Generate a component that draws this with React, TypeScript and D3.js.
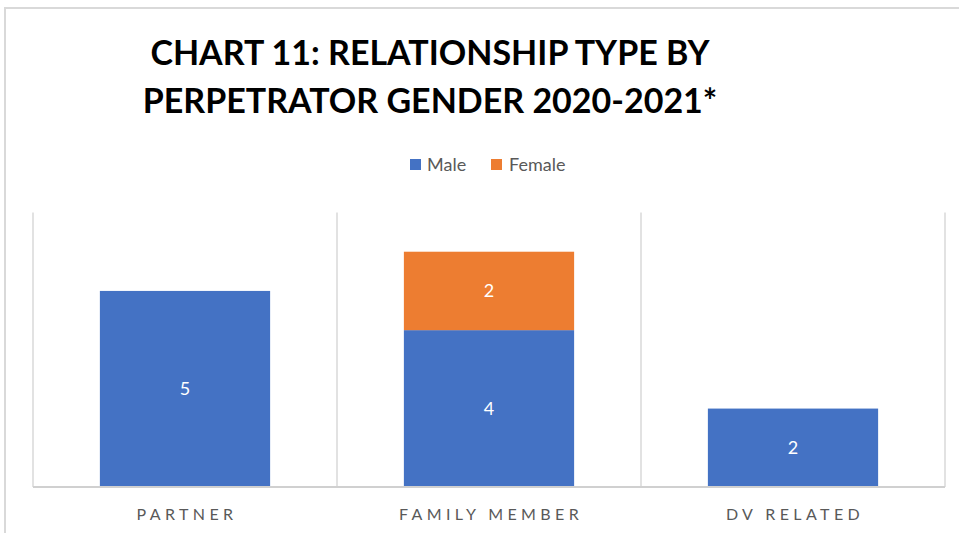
import React from 'react';
import * as d3 from 'd3';

const categories = ['PARTNER', 'FAMILY MEMBER', 'DV RELATED'];
const series = ['Male', 'Female'];
const maleValues = [5, 4, 2];
const femaleValues = [0, 2, 0];
const colors = ['#4472c4', '#ed7d31'];
const titleLines = ['CHART 11: RELATIONSHIP TYPE BY', 'PERPETRATOR GENDER 2020-2021*'];

const width = 959;
const height = 533;
const plot = {left: 33, right: 945, top: 212.5, bottom: 487};

export default function App() {
  const x = d3.scaleBand<string>().domain(categories).range([plot.left, plot.right]).padding(0);
  const y = d3.scaleLinear().domain([0, 7]).range([plot.bottom, plot.top]);
  const barW = x.bandwidth() * 0.56;

  const rows = categories.map((c, i) => ({cat: c, Male: maleValues[i], Female: femaleValues[i]}));
  const stacked = d3.stack<any>().keys(series)(rows);

  const gridXs = [...categories.map(c => x(c) as number), plot.right];

  return (
    <svg width={width} height={height} style={{position: 'absolute', left: 0, top: 0, background: '#fff'}}>
      {/* outer chart border (top + left only visible) */}
      <path d={`M5,${height} L5,8 L${width},8`} fill="none" stroke="#d9d9d9" strokeWidth={2} />

      {titleLines.map((t, i) => (
        <text key={i} x={430} y={65 + i * 48} textAnchor="middle" fontFamily="Lato, 'Open Sans', sans-serif"
              fontWeight="bold" fontSize={34} fill="#000">{t}</text>
      ))}

      {/* legend */}
      <g fontFamily="Lato, 'Open Sans', sans-serif" fontSize={18} fill="#595959">
        <rect x={410} y={159} width={11} height={11} fill={colors[0]} />
        <text x={427} y={171}>Male</text>
        <rect x={491} y={159} width={11} height={11} fill={colors[1]} />
        <text x={509} y={171}>Female</text>
      </g>

      {gridXs.map((gx, i) => (
        <line key={i} x1={gx} x2={gx} y1={plot.top} y2={plot.bottom} stroke="#d9d9d9" strokeWidth={1.5} />
      ))}

      {stacked.map((s, si) => (
        <g key={s.key} fill={colors[si]}>
          {s.map((d, i) => {
            const v = d[1] - d[0];
            if (!v) return null;
            const cx = (x(categories[i]) as number) + x.bandwidth() / 2;
            return (
              <g key={i}>
                <rect x={cx - barW / 2} y={y(d[1])} width={barW} height={y(d[0]) - y(d[1])} />
                <text x={cx} y={(y(d[0]) + y(d[1])) / 2 + 6} textAnchor="middle" fill="#fff"
                      fontFamily="Lato, 'Open Sans', sans-serif" fontSize={18}>{v}</text>
              </g>
            );
          })}
        </g>
      ))}

      <line x1={plot.left} x2={plot.right} y1={plot.bottom} y2={plot.bottom} stroke="#d0d0d0" strokeWidth={2} />

      {categories.map(c => (
        <text key={c} x={(x(c) as number) + x.bandwidth() / 2 + 2} y={520} textAnchor="middle"
              fontFamily="Lato, 'Open Sans', sans-serif" fontSize={16} letterSpacing={4.4} fill="#595959">{c}</text>
      ))}
    </svg>
  );
}
